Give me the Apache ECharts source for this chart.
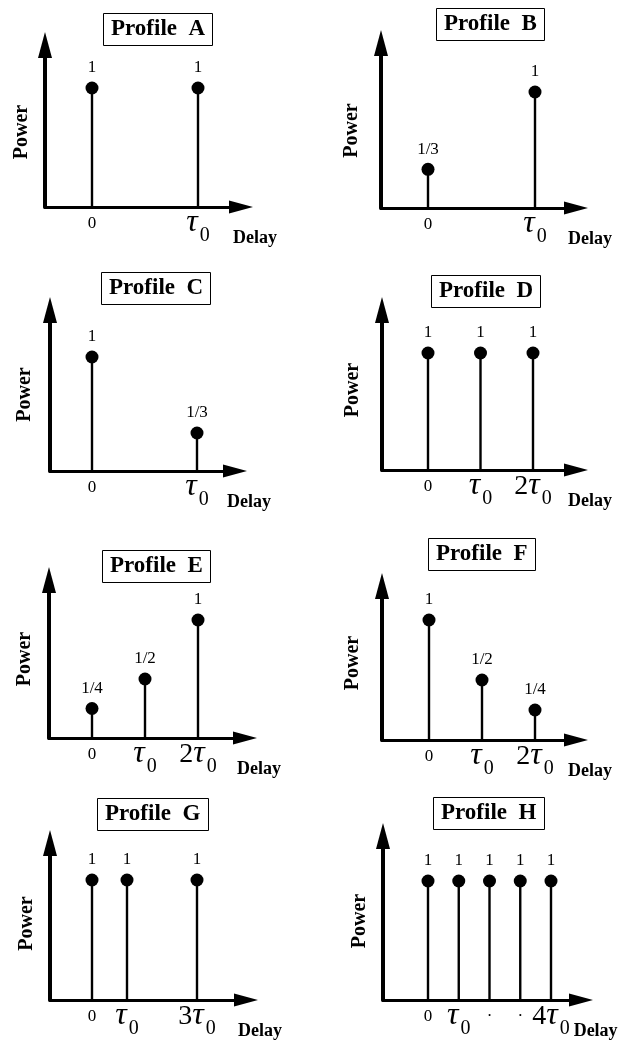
<!DOCTYPE html>
<html>
<head>
<meta charset="utf-8">
<script src="https://cdn.jsdelivr.net/npm/echarts@6/dist/echarts.min.js"></script>
<style>
  html, body { margin: 0; padding: 0; background: #fff; }
  #chart { width: 619px; height: 1048px; }
</style>
</head>
<body>
<div id="chart"></div>
<script>
// Eight power-delay profiles: delay in units of tau0, relative power of each path
const profileNames = ['A', 'B', 'C', 'D', 'E', 'F', 'G', 'H'];
const delays = [[0, 1], [0, 1], [0, 1], [0, 1, 2], [0, 1, 2], [0, 1, 2], [0, 1, 3], [0, 1, 2, 3, 4]];
const powers = [[1, 1], [1 / 3, 1], [1, 1 / 3], [1, 1, 1], [1 / 4, 1 / 2, 1], [1, 1 / 2, 1 / 4], [1, 1, 1], [1, 1, 1, 1, 1]];
const powerLabels = [['1', '1'], ['1/3', '1'], ['1', '1/3'], ['1', '1', '1'], ['1/4', '1/2', '1'], ['1', '1/2', '1/4'], ['1', '1', '1'], ['1', '1', '1', '1', '1']];
const tickValues = [[0, 1], [0, 1], [0, 1], [0, 1, 2], [0, 1, 2], [0, 1, 2], [0, 1, 3], [0, 1, 2, 3, 4]];
const tickLabels = [
  ['0', 'τ0'], ['0', 'τ0'], ['0', 'τ0'],
  ['0', 'τ0', '2τ0'], ['0', 'τ0', '2τ0'], ['0', 'τ0', '2τ0'],
  ['0', 'τ0', '3τ0'], ['0', 'τ0', '·', '·', '4τ0']
];

// Panel geometry (px): y-axis position, baseline, position of delay 0, px per tau0,
// height of unit power, arrow tips, gap and downward shift of the "Power" name
const panelLayout = [
  { axisX: 45,  baseY: 207,  zeroX: 92,  unit: 106,   oneY: 88,  tipX: 253, tipY: 32,  powerGap: 13, powerShift: 6 },
  { axisX: 381, baseY: 208,  zeroX: 428, unit: 107,   oneY: 92,  tipX: 588, tipY: 30,  powerGap: 19, powerShift: 5 },
  { axisX: 50,  baseY: 471,  zeroX: 92,  unit: 105,   oneY: 357, tipX: 247, tipY: 297, powerGap: 15, powerShift: 4 },
  { axisX: 382, baseY: 470,  zeroX: 428, unit: 52.5,  oneY: 353, tipX: 588, tipY: 297, powerGap: 19, powerShift: 0 },
  { axisX: 49,  baseY: 738,  zeroX: 92,  unit: 53,    oneY: 620, tipX: 257, tipY: 567, powerGap: 14, powerShift: 0 },
  { axisX: 382, baseY: 740,  zeroX: 429, unit: 53,    oneY: 620, tipX: 588, tipY: 573, powerGap: 19, powerShift: 0 },
  { axisX: 50,  baseY: 1000, zeroX: 92,  unit: 35,    oneY: 880, tipX: 258, tipY: 830, powerGap: 13, powerShift: 2 },
  { axisX: 383, baseY: 1000, zeroX: 428, unit: 30.75, oneY: 881, tipX: 593, tipY: 823, powerGap: 13, powerShift: 3 }
];
const titleBoxes = [[103, 13], [436, 8], [101, 272], [431, 275], [102, 550], [428, 538], [97, 798], [433, 797]];

const SERIF = '"Liberation Serif", "Times New Roman", serif';
const Y_ARROW = [14, 26];
const X_ARROW = [13, 24];

const tickRich = {
  z: { fontFamily: SERIF, fontSize: 17, lineHeight: 36, verticalAlign: 'top', padding: [8, 0, 0, 0], color: '#000' },
  d: { fontFamily: SERIF, fontSize: 17, lineHeight: 36, verticalAlign: 'top', padding: [8, 0, 0, 0], color: '#000' },
  n: { fontFamily: SERIF, fontSize: 28, lineHeight: 36, verticalAlign: 'top', padding: [3, 0, 0, 0], color: '#000' },
  t: { fontFamily: SERIF, fontSize: 32, fontStyle: 'italic', lineHeight: 36, verticalAlign: 'top', color: '#000' },
  s: { fontFamily: SERIF, fontSize: 20, lineHeight: 36, verticalAlign: 'top', padding: [19, 0, 0, 2], color: '#000' }
};

function richTick(label) {
  if (label === '0') return '{z|0}';
  if (label === '·') return '{d|·}';
  const m = label.match(/^(\d*)τ0$/);
  return (m && m[1] ? '{n|' + m[1] + '}' : '') + '{t|τ}{s|0}';
}

function stemRenderer(panel) {
  return function (params, api) {
    const x = api.value(0);
    const v = api.value(1);
    const base = api.coord([x, 0]);
    const top = api.coord([x, v]);
    return {
      type: 'group',
      children: [
        { type: 'line', shape: { x1: base[0], y1: base[1], x2: top[0], y2: top[1] },
          style: { stroke: '#000', lineWidth: 2.4 } },
        { type: 'circle', shape: { cx: top[0], cy: top[1], r: 6.5 }, style: { fill: '#000' } },
        { type: 'text', style: {
            text: powerLabels[panel][params.dataIndex], x: top[0], y: top[1] - 20,
            align: 'center', verticalAlign: 'middle',
            font: '17px ' + SERIF, fill: '#000' } }
      ]
    };
  };
}

const grids = [], xAxes = [], yAxes = [], series = [], titles = [];

profileNames.forEach(function (name, i) {
  const L = panelLayout[i];
  const gridTop = L.tipY + Y_ARROW[1] / 2;
  const gridRight = L.tipX - X_ARROW[1] / 2;
  grids.push({
    left: L.axisX, top: gridTop,
    width: gridRight - L.axisX, height: L.baseY - gridTop,
    containLabel: false, outerBoundsMode: 'none'
  });
  xAxes.push({
    type: 'value', gridIndex: i,
    min: (L.axisX - L.zeroX) / L.unit,
    max: (gridRight - L.zeroX) / L.unit,
    axisLine: { show: true, onZero: false, symbol: ['none', 'triangle'], symbolSize: X_ARROW,
      lineStyle: { color: '#000', width: 3 } },
    axisTick: { show: false },
    splitLine: { show: false },
    axisLabel: {
      customValues: tickValues[i],
      margin: 0,
      formatter: function (val) {
        return richTick(tickLabels[i][tickValues[i].indexOf(val)]);
      },
      rich: tickRich
    },
    name: 'Delay', nameLocation: 'end', nameGap: 14,
    nameTextStyle: { fontFamily: SERIF, fontWeight: 'bold', fontSize: 18, color: '#000',
      align: 'center', verticalAlign: 'top', padding: [22, 0, 0, 0] }
  });
  yAxes.push({
    type: 'value', gridIndex: i,
    min: 0, max: (L.baseY - gridTop) / (L.baseY - L.oneY),
    axisLine: { show: true, onZero: false, symbol: ['none', 'triangle'], symbolSize: Y_ARROW,
      lineStyle: { color: '#000', width: 4 } },
    axisTick: { show: false },
    splitLine: { show: false },
    axisLabel: { show: false },
    name: 'Power', nameLocation: 'middle', nameRotate: 90, nameGap: L.powerGap,
    nameTextStyle: { fontFamily: SERIF, fontWeight: 'bold', fontSize: 20, color: '#000',
      padding: [0, L.powerShift * 2, 0, 0] }
  });
  series.push({
    type: 'custom', xAxisIndex: i, yAxisIndex: i,
    encode: { x: 0, y: 1 },
    data: delays[i].map(function (d, j) { return [d, powers[i][j]]; }),
    renderItem: stemRenderer(i),
    silent: true
  });
  titles.push({
    text: 'Profile  ' + name,
    left: titleBoxes[i][0], top: titleBoxes[i][1],
    padding: [5, 8],
    borderWidth: 1, borderColor: '#000',
    textStyle: { fontFamily: SERIF, fontWeight: 'bold', fontSize: 23, color: '#000' }
  });
});

const chart = echarts.init(document.getElementById('chart'), null, { renderer: 'canvas' });
chart.setOption({
  backgroundColor: '#fff',
  animation: false,
  title: titles,
  grid: grids,
  xAxis: xAxes,
  yAxis: yAxes,
  series: series
});
</script>
</body>
</html>
